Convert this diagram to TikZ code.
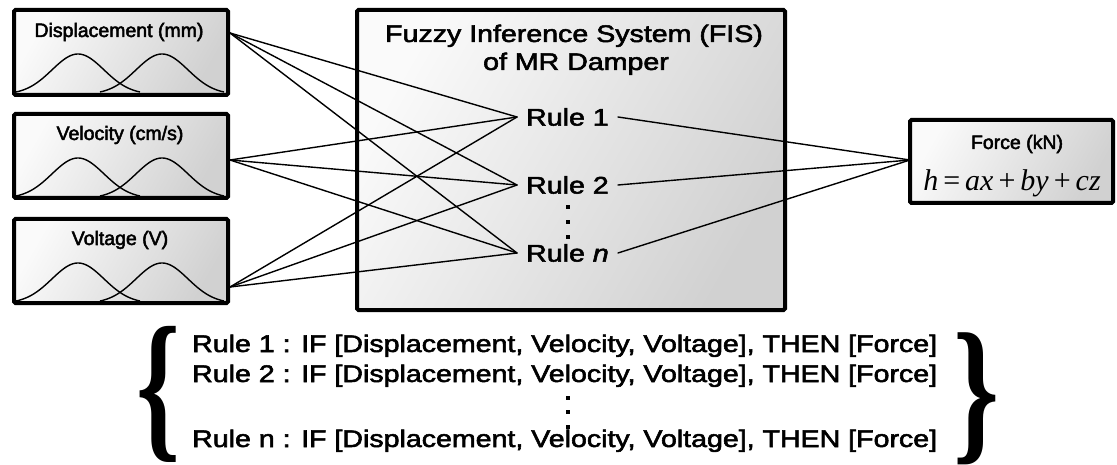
\documentclass[tikz,border=0pt]{standalone}
\usepackage{fontspec}
\usepackage{graphicx}
\setmainfont{Liberation Sans}
\newfontfamily\formulafont{Liberation Serif}
% slightly heavier glyphs: fill and stroke the text outlines
\newcommand\heavytext[1]{\special{pdf:literal 0.5 w 2 Tr}#1\special{pdf:literal 0 Tr}}
\begin{document}
\begin{tikzpicture}[x=1pt, y=-1pt,
  panel/.style={draw=black, line width=4pt, rounded corners=1.5pt,
    top color=gray!4, bottom color=gray!36, shading angle=60, inner sep=0pt},
  link/.style={line width=1.4pt, line cap=round},
  bell/.style={line width=1.4pt},
  dot/.style={fill=black, inner sep=0pt},
  smalltxt/.style={font=\fontsize{19.5}{22}\selectfont, inner sep=0pt},
  bigtxt/.style={font=\fontsize{24}{28}\selectfont, inner sep=0pt},
  bracetxt/.style={inner sep=0pt}]
  \useasboundingbox (0,0) rectangle (1117,465);
  \fill[white] (0,0) rectangle (1117,465);

  % input panels
  \node[panel, minimum width=214pt, minimum height=85pt] (disp) at (121,52.5) {};
  \node[panel, minimum width=214pt, minimum height=84pt] (vel)  at (121,156) {};
  \node[panel, minimum width=214pt, minimum height=84pt] (volt) at (121,261) {};
  \node[smalltxt, anchor=base] (dispLbl) at (119,37)  {\heavytext{Displacement (mm)}};
  \node[smalltxt, anchor=base] (velLbl)  at (120,140) {\heavytext{Velocity (cm/s)}};
  \node[smalltxt, anchor=base] (voltLbl) at (120,245) {\heavytext{Voltage (V)}};

  % membership functions
  \foreach \t in {10,114,219} {
    \foreach \c in {78,162} {
      \draw[bell] plot[domain=-62:62, samples=60, smooth]
        ({\c+\x}, {\t+82-38*(exp(-0.5*(\x/26)*(\x/26))-0.0584)/(1-0.0584)});
    }
  }

  % inference block
  \node[panel, minimum width=428pt, minimum height=300pt] (fis) at (571,160) {};
  \node[bigtxt, anchor=base] (titleA) at (574,42) {\heavytext{\scalebox{1.19}[1]{Fuzzy Inference System (FIS)}}};
  \node[bigtxt, anchor=base] (titleB) at (576,70) {\heavytext{\scalebox{1.19}[1]{of MR Damper}}};

  \node[bigtxt, anchor=west, inner xsep=9pt] (r1) at (517,117) {\heavytext{\scalebox{1.19}[1]{Rule 1}}};
  \node[bigtxt, anchor=west, inner xsep=9pt] (r2) at (517,185) {\heavytext{\scalebox{1.19}[1]{Rule 2}}};
  \node[bigtxt, anchor=west, inner xsep=9pt] (rn) at (517,253) {\heavytext{\scalebox{1.19}[1]{Rule \textit{n}}}};
  \foreach \y [count=\i] in {207,222,237}
    \node[dot, minimum size=4pt] (fd\i) at (568,\y) {};

  % output panel
  \node[panel, minimum width=203pt, minimum height=83pt] (force) at (1011.5,161.5) {};
  \node[smalltxt, anchor=base] (forceLbl) at (1017,149) {\heavytext{Force (kN)}};
  \node[inner sep=0pt, anchor=base] (formula) at (1012,191)
    {\formulafont\fontsize{30}{32}\selectfont\textit{h}\,=\,\textit{ax}\,+\,\textit{by}\,+\,\textit{cz}};

  % connector end points
  \coordinate (dispOut) at (230,33);
  \coordinate (velOut)  at (230,160);
  \coordinate (voltOut) at (230,287);
  \coordinate (forceIn) at (910,160);

  \foreach \s in {dispOut,velOut,voltOut}
    \foreach \r in {r1,r2,rn}
      \draw[link] (\s) -- (\r.west);
  \foreach \r in {r1,r2,rn}
    \draw[link] (\r.east) -- (forceIn);

  % rule base
  \node[bigtxt, anchor=base west] (rule1) at (192,352) {\heavytext{\scalebox{1.19}[1]{Rule 1 : IF [Displacement, Velocity, Voltage], THEN [Force]}}};
  \node[bigtxt, anchor=base west] (rule2) at (192,382) {\heavytext{\scalebox{1.19}[1]{Rule 2 : IF [Displacement, Velocity, Voltage], THEN [Force]}}};
  \node[bigtxt, anchor=base west] (rulen) at (192,447) {\heavytext{\scalebox{1.19}[1]{Rule n : IF [Displacement, Velocity, Voltage], THEN [Force]}}};
  \foreach \y [count=\i] in {398,412,427}
    \node[dot, minimum size=3.5pt] (bd\i) at (568,\y) {};

  \node[bracetxt] (lbrace) at (159,394) {\resizebox*{44pt}{136pt}{\formulafont\bfseries\{}};
  \node[bracetxt] (rbrace) at (977,399) {\resizebox*{46pt}{132pt}{\formulafont\bfseries\}}};
\end{tikzpicture}
\end{document}
